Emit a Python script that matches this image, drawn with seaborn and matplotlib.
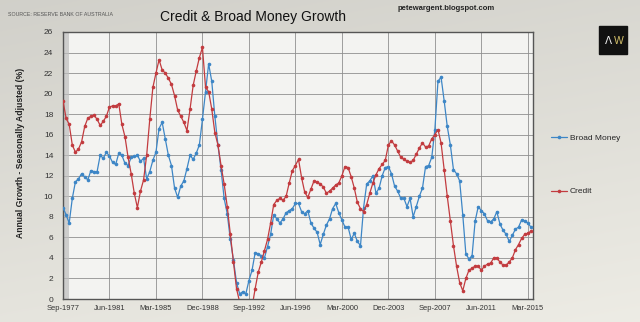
import numpy as np
import pandas as pd
import matplotlib
matplotlib.use("Agg")
import matplotlib.pyplot as plt
import seaborn as sns
from matplotlib import font_manager
from matplotlib.lines import Line2D
from matplotlib.patches import Rectangle

# ---------------- data (quarterly readings, month index from Sep-1977) ----------------
months = list(range(0, 454, 3))

credit = [
    19.3, 17.6, 17.0, 15.0, 14.3, 14.6, 15.3, 16.8, 17.6, 17.8,
    17.9, 17.5, 16.9, 17.3, 17.8, 18.7, 18.8, 18.8, 19.0, 17.0,
    15.8, 13.8, 12.2, 10.3, 8.9, 10.5, 11.6, 14.0, 17.5, 20.6,
    22.0, 23.3, 22.3, 22.0, 21.5, 20.9, 19.8, 18.4, 17.8, 17.2,
    16.4, 18.5, 20.8, 22.2, 23.5, 24.5, 20.6, 20.2, 18.5, 16.2,
    15.0, 13.0, 11.2, 9.0, 6.3, 3.6, 1.0, -0.3, -1.0, -1.5,
    -1.5, -0.8, 1.0, 2.6, 3.6, 4.7, 5.8, 7.4, 9.2, 9.6,
    9.8, 9.6, 10.0, 11.3, 12.5, 13.0, 13.6, 11.8, 10.4, 9.9,
    10.7, 11.5, 11.4, 11.2, 10.9, 10.3, 10.5, 10.8, 11.1, 11.3,
    12.0, 12.9, 12.8, 11.9, 10.8, 9.4, 8.8, 8.5, 9.2, 10.3,
    11.3, 12.1, 12.7, 13.1, 13.5, 15.0, 15.4, 15.0, 14.4, 13.8,
    13.6, 13.4, 13.3, 13.5, 14.1, 14.7, 15.2, 14.8, 14.9, 15.6,
    16.0, 16.5, 15.2, 12.6, 10.0, 7.6, 5.2, 3.2, 1.6, 0.8,
    2.0, 2.8, 3.0, 3.2, 3.2, 2.8, 3.2, 3.4, 3.5, 4.0,
    4.0, 3.6, 3.3, 3.3, 3.6, 4.0, 4.8, 5.3, 5.9, 6.3,
    6.4, 6.6,
]

broad_money = [
    8.9, 8.2, 7.4, 9.8, 11.4, 11.7, 12.2, 11.9, 11.6, 12.5,
    12.4, 12.4, 14.0, 13.7, 14.3, 13.9, 13.3, 13.1, 14.2, 14.0,
    13.2, 13.0, 13.8, 13.9, 14.0, 13.4, 13.7, 11.7, 12.4, 13.5,
    14.3, 16.6, 17.2, 15.6, 14.0, 13.0, 10.8, 9.9, 11.0, 11.5,
    12.7, 14.0, 13.6, 14.2, 15.0, 17.5, 20.2, 22.9, 21.2, 17.8,
    15.0, 12.6, 9.8, 8.3, 5.8, 3.8, 1.6, 0.5, 0.7, 0.5,
    1.8, 2.8, 4.5, 4.4, 4.2, 4.0, 5.1, 6.3, 8.2, 7.8,
    7.4, 7.8, 8.4, 8.6, 8.8, 9.3, 9.3, 8.5, 8.3, 8.6,
    7.4, 6.9, 6.5, 5.3, 6.3, 7.2, 7.8, 8.8, 9.3, 8.4,
    7.7, 7.0, 7.0, 5.8, 6.4, 5.6, 5.2, 8.9, 11.2, 11.5,
    12.0, 10.3, 10.8, 12.0, 12.8, 12.9, 12.2, 11.0, 10.5, 9.8,
    9.8, 9.0, 9.8, 8.0, 9.0, 10.0, 10.8, 12.9, 13.0, 13.8,
    16.5, 21.2, 21.6, 19.3, 16.8, 15.0, 12.6, 12.2, 11.5, 8.2,
    4.4, 3.9, 4.2, 7.6, 9.0, 8.6, 8.3, 7.6, 7.5, 7.8,
    8.5, 7.3, 6.7, 6.3, 5.6, 6.2, 6.8, 7.0, 7.7, 7.6,
    7.4, 7.0,
]

xtick_labels = ["Sep-1977", "Jun-1981", "Mar-1985", "Dec-1988", "Sep-1992",
                "Jun-1996", "Mar-2000", "Dec-2003", "Sep-2007", "Jun-2011", "Mar-2015"]
xtick_months = [45 * i for i in range(len(xtick_labels))]
yticks = list(range(0, 27, 2))

series_names = ["Broad Money", "Credit"]
colors = {"Broad Money": "#3d86c6", "Credit": "#c23b3f"}

assert len(credit) == len(months) and len(broad_money) == len(months)

df = pd.DataFrame({
    "month": months * 2,
    "value": broad_money + credit,
    "series": ["Broad Money"] * len(months) + ["Credit"] * len(months),
})

# ---------------- fonts ----------------
sns.set_theme(style="white")
names = {f.name for f in font_manager.fontManager.ttflist}
narrow = "Liberation Sans Narrow" if "Liberation Sans Narrow" in names else "Liberation Sans"
plt.rcParams["font.family"] = [narrow, "DejaVu Sans"]

# ---------------- figure ----------------
fig = plt.figure(figsize=(6.4, 3.22), dpi=100)

# background gradient
bg = fig.add_axes([0, 0, 1, 1], zorder=-10)
gy = np.linspace(0, 1, 200)[:, None]
gx = np.linspace(0, 1, 200)[None, :]
grad = 0.82 + 0.08 * gy + 0.03 * gx
bg.imshow(np.dstack([grad, grad * 0.995, grad * 0.965]), aspect="auto",
          extent=[0, 1, 0, 1], origin="upper")
bg.axis("off")

L, R, T, B = 63, 533, 32, 299
ax = fig.add_axes([L / 640, 1 - B / 322, (R - L) / 640, (B - T) / 322])
ax.set_facecolor("#f3f3f1")

sns.lineplot(data=df, x="month", y="value", hue="series", palette=colors,
             hue_order=series_names, marker="o", markersize=2.6,
             markeredgewidth=0, linewidth=0.9, legend=False, ax=ax, zorder=3)

ax.set_xlim(0, 455)
ax.set_ylim(0, 26)
ax.set_xticks(xtick_months)
ax.set_xticklabels(xtick_labels)
ax.set_yticks(yticks)
ax.tick_params(axis="both", length=0, colors="#333333")
ax.tick_params(axis="y", pad=7, labelsize=6.0)
ax.tick_params(axis="x", pad=4, labelsize=5.4)
ax.grid(True, color="#8f8f8f", linewidth=0.6, zorder=0)
ax.set_axisbelow(True)
for s in ax.spines.values():
    s.set_color("#555555")
    s.set_linewidth(1.0)
ax.set_xlabel("")
ax.set_ylabel("Annual Growth - Seasonally Adjusted (%)", fontsize=6.2,
              fontweight="bold", color="#222222")
ax.yaxis.set_label_coords(-0.081, 0.547)

# shadow wall on the left of plot area
ax.add_patch(Rectangle((0, 0), 0.012, 1, transform=ax.transAxes,
                       color="#bdbdbd", alpha=0.7, zorder=1, linewidth=0))

# ---------------- texts ----------------
fig.text(253 / 640, 1 - 17 / 322, "Credit & Broad Money Growth", ha="center",
         va="center", fontsize=10.0, color="#111111")
fig.text(8 / 640, 1 - 15 / 322, "SOURCE: RESERVE BANK OF AUSTRALIA", ha="left",
         va="center", fontsize=3.8, color="#555555")
fig.text(446 / 640, 1 - 9 / 322, "petewargent.blogspot.com", ha="center",
         va="center", fontsize=5.5, fontweight="bold", color="#222222")

# AW logo
fig.patches.append(Rectangle((599 / 640, 1 - 54 / 322), 28 / 640, 28 / 322,
                             transform=fig.transFigure, color="#111111", zorder=5))
fig.text(608.5 / 640, 1 - 41 / 322, "Λ", ha="center", va="center", fontsize=7.5,
         color="#f0f0f0", family="DejaVu Sans", zorder=6)
fig.text(619 / 640, 1 - 41 / 322, "W", ha="center", va="center", fontsize=7.5,
         color="#d4c06a", zorder=6)

# legend
handles = [Line2D([0], [0], color=colors[n], marker="o", markersize=2.6,
                  markeredgewidth=0, linewidth=0.9) for n in series_names]
fig.legend(handles, series_names, loc="upper left",
           bbox_to_anchor=(551 / 640, 1 - 134 / 322), frameon=False,
           fontsize=6.0, handlelength=1.9, handletextpad=0.35,
           labelspacing=5.5, borderpad=0, borderaxespad=0)

fig.savefig("out.png", dpi=100)
